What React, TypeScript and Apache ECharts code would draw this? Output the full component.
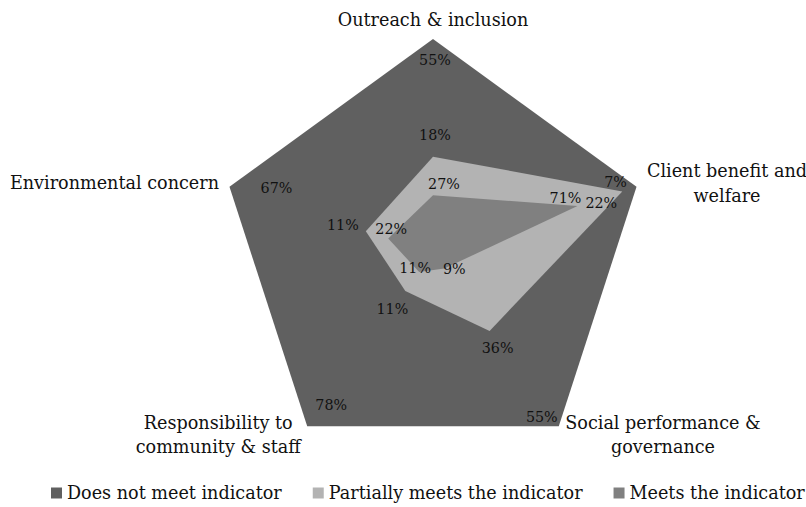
import React, { useEffect, useRef } from "react";
import * as echarts from "echarts";

// Indicators in radar order (ECharts lays them out counter-clockwise from the top)
const categories: string[] = [
  "Outreach & inclusion",
  "Environmental concern",
  "Responsibility to\ncommunity & staff",
  "Social performance &\ngovernance",
  "Client benefit and\nwelfare",
];

const seriesNames: string[] = [
  "Does not meet indicator",
  "Partially meets the indicator",
  "Meets the indicator",
];

// Share of institutions (%) per indicator
const doesNotMeet: number[] = [55, 67, 78, 55, 7];
const partiallyMeets: number[] = [18, 11, 11, 36, 22];
const meets: number[] = [27, 22, 11, 9, 71];

const colors = ["#606060", "#b3b3b3", "#808080"];
const FONT = "DejaVu Serif";

// Per-vertex label nudges [dx, dy], one row per stacked layer
const labelOffsets: number[][][] = [
  [[2, 21], [47, 1], [24, -21], [-17, -9], [-21, -5]],
  [[2, -22], [-23, -6], [-13, 18], [8, 17], [-21, 12]],
  [[11, -11], [3, -9], [-4, -4], [10, 0], [-12, -8]],
];

export default function App() {
  const ref = useRef<HTMLDivElement>(null);

  useEffect(() => {
    if (!ref.current) return;
    const chart = echarts.init(ref.current, undefined, { renderer: "svg" });

    // Stacked radar: each layer is drawn at its cumulative value
    const layers = [doesNotMeet, partiallyMeets, meets];
    const cumTop = categories.map((_, i) => meets[i] + partiallyMeets[i] + doesNotMeet[i]);
    const cumMid = categories.map((_, i) => meets[i] + partiallyMeets[i]);
    const cumInner = meets.slice();
    const cumulative = [cumTop, cumMid, cumInner];

    const areaSeries = seriesNames.map((name, s) => ({
      type: "radar",
      name,
      symbol: "none",
      silent: true,
      itemStyle: { color: colors[s] },
      lineStyle: { width: 0, opacity: 0 },
      areaStyle: { color: colors[s], opacity: 1 },
      data: [{ value: cumulative[s], name }],
      z: 2 + s,
    }));

    const labelSeries = seriesNames.map((name, s) => ({
      type: "radar",
      name: name + " labels",
      symbol: "circle",
      symbolSize: 1,
      silent: true,
      itemStyle: { color: "rgba(0,0,0,0)" },
      lineStyle: { width: 0, opacity: 0, color: "rgba(0,0,0,0)" },
      label: {
        show: true,
        position: "inside",
        color: "#111",
        fontFamily: FONT,
        fontSize: 14.3,
        formatter: (p: any) =>
          p.dataIndex === p.dimensionIndex ? `${layers[s][p.dimensionIndex]}%` : "",
      },
      data: categories.map((_, i) => ({
        value: cumulative[s],
        label: { offset: labelOffsets[s][i] },
      })),
      z: 10,
    }));

    chart.setOption({
      animation: false,
      backgroundColor: "#ffffff",
      legend: {
        data: seriesNames,
        left: 46,
        top: 479,
        width: 780,
        icon: "rect",
        itemWidth: 11,
        itemHeight: 11,
        itemGap: 31,
        textStyle: { fontFamily: FONT, fontSize: 17.6, color: "#111" },
      },
      radar: {
        center: [433, 253],
        radius: 214,
        startAngle: 90,
        shape: "polygon",
        nameGap: 11,
        indicator: categories.map((name) => ({ name, min: 0, max: 100 })),
        axisName: {
          color: "#111",
          fontFamily: FONT,
          fontSize: 17.6,
          formatter: (name: string) =>
            name.indexOf("\n") < 0 && name.startsWith("Outreach")
              ? `{t|${name}}`
              : name
                  .split("\n")
                  .map((l) => `{c|${l}}`)
                  .join("\n"),
          rich: {
            c: { align: "center", lineHeight: 24.5, fontFamily: FONT, fontSize: 17.6, color: "#111" },
            t: { align: "center", lineHeight: 16, fontFamily: FONT, fontSize: 17.6, color: "#111" },
          },
        },
        splitNumber: 5,
        splitLine: { show: false },
        splitArea: { show: false },
        axisLine: { show: false },
        axisTick: { show: false },
        axisLabel: { show: false },
      },
      series: [...areaSeries, ...labelSeries],
    });

    return () => chart.dispose();
  }, []);

  return (
    <div
      ref={ref}
      style={{ position: "absolute", left: 0, top: 0, width: 806, height: 507 }}
    />
  );
}
